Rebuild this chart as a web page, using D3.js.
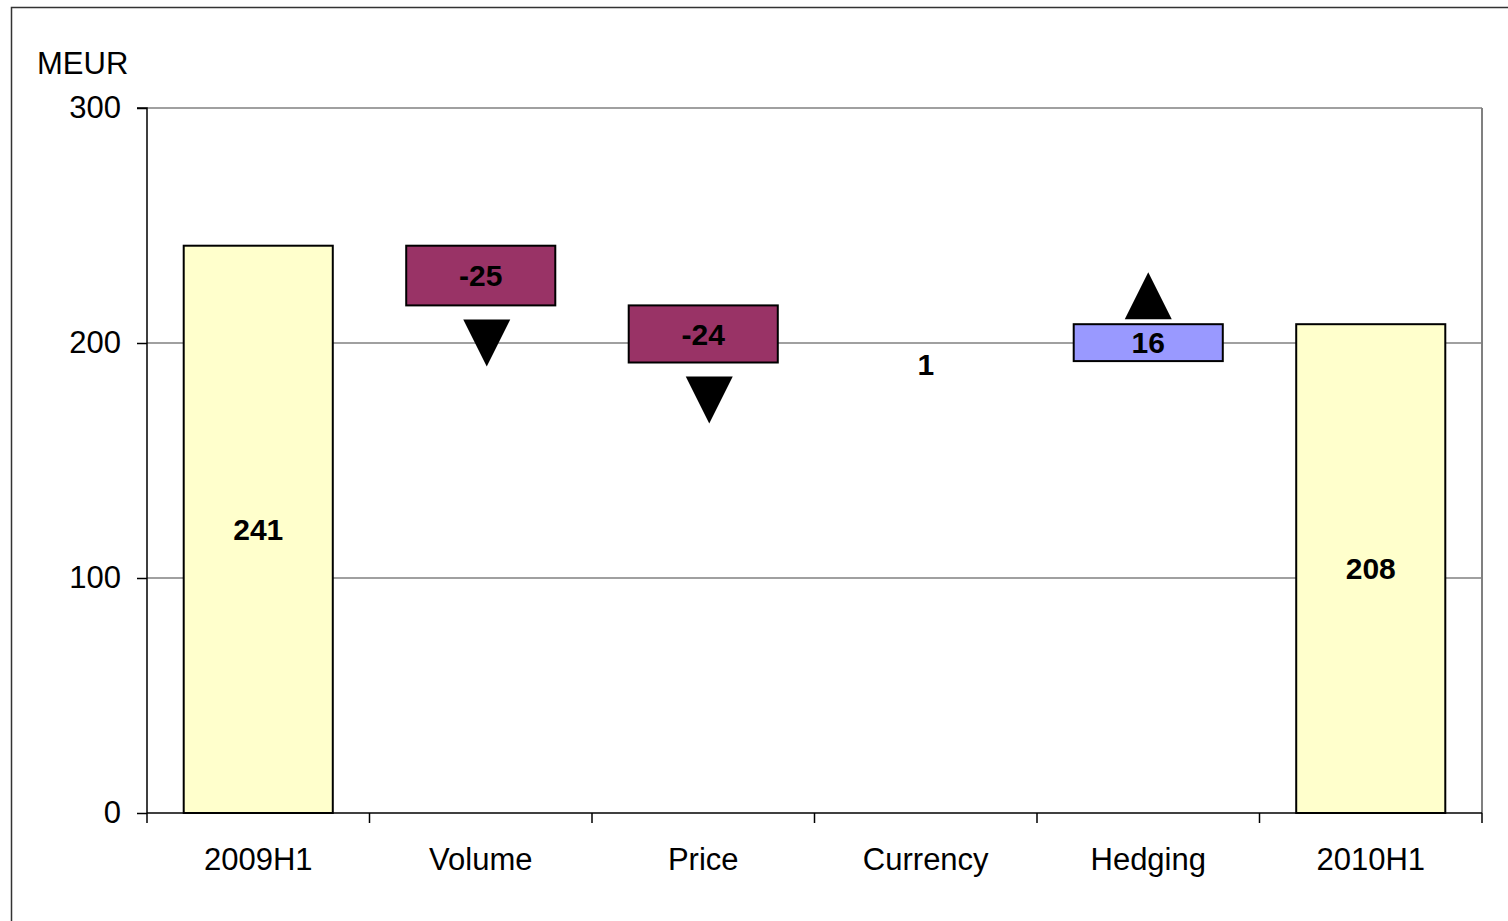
<!DOCTYPE html>
<html>
<head>
<meta charset="utf-8">
<script src="https://cdn.jsdelivr.net/npm/d3@7"></script>
<style>
  body { margin: 0; background: #fff; }
  svg { display: block; font-family: "Liberation Sans", Arial, sans-serif; }
</style>
</head>
<body>
<svg id="chart"></svg>
<script>
// Data
const categories = ["2009H1", "Volume", "Price", "Currency", "Hedging", "2010H1"];
const kinds = ["total", "delta", "delta", "delta", "delta", "total"];
const values = [241.4, -25.4, -24.3, 0.6, 15.7, 208.0];
const arrows = [null, "down", "down", null, "up", null];
const yTicks = [0, 100, 200, 300];

const width = 1508;
const height = 921;
const margin = { top: 108, right: 26, bottom: 108, left: 147 };

const colors = { total: "#FFFFCC", down: "#993366", up: "#9999FF" };

// Waterfall segments
let running = 0;
const segments = categories.map((c, i) => {
  let y0, y1;
  if (kinds[i] === "total") {
    y0 = 0;
    y1 = values[i];
    running = values[i];
  } else {
    y0 = running;
    y1 = running + values[i];
    running = y1;
  }
  return {
    cat: c,
    kind: kinds[i],
    value: values[i],
    y0: y0,
    y1: y1,
    arrow: arrows[i],
    label: String(Math.round(values[i])),
  };
});

const svg = d3.select("#chart").attr("width", width).attr("height", height);

// Outer frame
svg.append("rect")
  .attr("x", 11.5).attr("y", 7.5)
  .attr("width", width + 10).attr("height", height + 10)
  .attr("fill", "none").attr("stroke", "#333").attr("stroke-width", 1.5);

// Scales
const x = d3.scaleBand()
  .domain(categories)
  .range([margin.left, width - margin.right])
  .paddingInner(0.33)
  .paddingOuter(0.165);

const xCell = d3.scaleBand()
  .domain(categories)
  .range([margin.left, width - margin.right]);

const y = d3.scaleLinear()
  .domain([0, 300])
  .range([height - margin.bottom, margin.top]);

const plotRight = width - margin.right;
const plotBottom = y(0);

// Gridlines
svg.append("g")
  .selectAll("line")
  .data(yTicks.filter(d => d > 0))
  .join("line")
  .attr("x1", margin.left).attr("x2", plotRight)
  .attr("y1", d => y(d)).attr("y2", d => y(d))
  .attr("stroke", "#808080").attr("stroke-width", 1.5);

// Right border of plot area
svg.append("line")
  .attr("x1", plotRight).attr("x2", plotRight)
  .attr("y1", y(300)).attr("y2", plotBottom)
  .attr("stroke", "#808080").attr("stroke-width", 2);

// Bars (the tiny currency step is not visible in the original)
const visible = segments.filter(d => Math.abs(d.y1 - d.y0) >= 2);
svg.append("g")
  .selectAll("rect")
  .data(visible)
  .join("rect")
  .attr("x", d => x(d.cat))
  .attr("width", x.bandwidth())
  .attr("y", d => y(Math.max(d.y0, d.y1)))
  .attr("height", d => Math.abs(y(d.y0) - y(d.y1)))
  .attr("fill", d => d.kind === "total" ? colors.total : (d.value < 0 ? colors.down : colors.up))
  .attr("stroke", "#000")
  .attr("stroke-width", 2);

// Arrows
const triW = 47, triH = 47;
svg.append("g")
  .selectAll("path")
  .data(segments.filter(d => d.arrow))
  .join("path")
  .attr("d", d => {
    const cx = x(d.cat) + x.bandwidth() / 2 + (d.arrow === "down" ? 6 : 0);
    if (d.arrow === "down") {
      const top = y(Math.min(d.y0, d.y1)) + 14;
      return `M${cx - triW / 2},${top}L${cx + triW / 2},${top}L${cx},${top + triH}Z`;
    }
    const bottom = y(Math.max(d.y0, d.y1)) - 5;
    return `M${cx - triW / 2},${bottom}L${cx + triW / 2},${bottom}L${cx},${bottom - triH}Z`;
  })
  .attr("fill", "#000");

// Value labels
svg.append("g")
  .selectAll("text")
  .data(segments)
  .join("text")
  .attr("x", d => x(d.cat) + x.bandwidth() / 2)
  .attr("y", d => {
    const mid = (y(d.y0) + y(d.y1)) / 2;
    return Math.abs(d.y1 - d.y0) < 2 ? mid + 2 : mid;
  })
  .attr("dy", "0.36em")
  .attr("text-anchor", "middle")
  .attr("font-size", 30)
  .attr("font-weight", "bold")
  .text(d => d.label);

// Axes
const yAxis = d3.axisLeft(y).tickValues(yTicks).tickSize(10).tickPadding(16);
const yG = svg.append("g")
  .attr("transform", `translate(${margin.left},0)`)
  .call(yAxis);
yG.select(".domain").attr("stroke", "#000").attr("stroke-width", 1.5).attr("d", `M-10,${y(300)}H0V${plotBottom}`);
yG.selectAll(".tick line").attr("stroke", "#000").attr("stroke-width", 1.5);
yG.selectAll(".tick text").attr("font-size", 31).attr("fill", "#000")
  .attr("font-family", "'Liberation Sans', Arial, sans-serif");

const tickPositions = categories.map(c => xCell(c)).concat([plotRight]);
const xG = svg.append("g");
xG.append("line")
  .attr("x1", margin.left).attr("x2", plotRight)
  .attr("y1", plotBottom).attr("y2", plotBottom)
  .attr("stroke", "#000").attr("stroke-width", 1.5);
xG.selectAll(".xtick")
  .data(tickPositions)
  .join("line")
  .attr("class", "xtick")
  .attr("x1", d => d).attr("x2", d => d)
  .attr("y1", plotBottom).attr("y2", plotBottom + 10)
  .attr("stroke", "#000").attr("stroke-width", 1.5);
xG.selectAll(".xlabel")
  .data(categories)
  .join("text")
  .attr("class", "xlabel")
  .attr("x", d => xCell(d) + xCell.bandwidth() / 2)
  .attr("y", plotBottom + 57)
  .attr("text-anchor", "middle")
  .attr("font-size", 31)
  .text(d => d);

// Unit label
svg.append("text")
  .attr("x", 37)
  .attr("y", 74)
  .attr("font-size", 31)
  .text("MEUR");
</script>
</body>
</html>
